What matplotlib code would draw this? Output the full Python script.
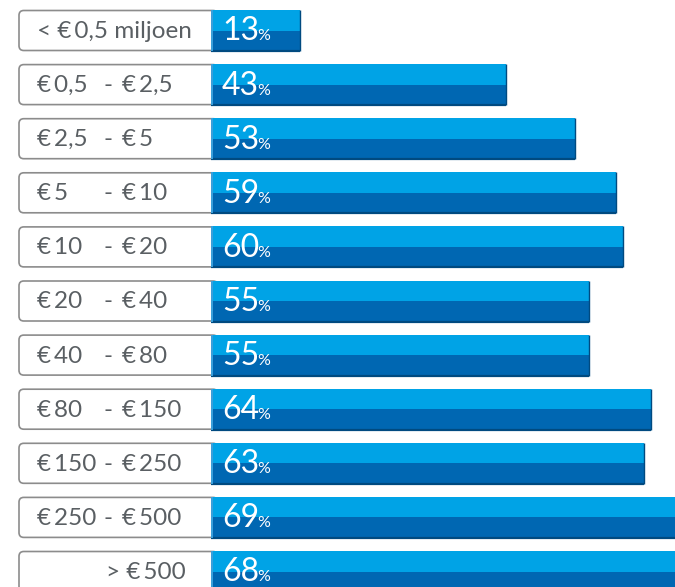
import matplotlib.pyplot as plt
from matplotlib.patches import FancyBboxPatch

# data
labels_left = ["< € 0,5 miljoen", "€ 0,5", "€ 2,5", "€ 5", "€ 10", "€ 20",
               "€ 40", "€ 80", "€ 150", "€ 250", "> € 500"]
labels_right = ["", "€ 2,5", "€ 5", "€ 10", "€ 20", "€ 40",
                "€ 80", "€ 150", "€ 250", "€ 500", ""]
values = [13, 43, 53, 59, 60, 55, 55, 64, 63, 69, 68]

# layout (pixels in a 675x587 figure)
W, H = 675, 587
PX_PER_PCT = 6.87
BAR_X0 = 211
ROW0 = 30.5
ROW_STEP = 54.1

LIGHT = "#00a3e6"
DARK = "#0067b2"
EDGE = "#004a80"
GRAY_TXT = "#5a5f63"
plt.rcParams['font.family'] = ['Lato', 'DejaVu Sans']


def px(x):
    # horizontal pixel position -> data x
    return -(BAR_X0 - x) / PX_PER_PCT


def thin(s):
    return s.replace("€ ", "€\u2009")


fig = plt.figure(figsize=(W / 100, H / 100), dpi=100)
ax = fig.add_axes([0, 0, 1, 1])
ax.set_xlim(px(0), px(W))
ax.set_ylim((H - ROW0) / ROW_STEP, -ROW0 / ROW_STEP)
ax.axis("off")

n = len(values)
ys = list(range(n))
bh = 41 / ROW_STEP

# bars: light full bar, dark lower half on top
ax.barh(ys, values, height=bh, color=LIGHT, zorder=3)
ax.barh([y + bh / 4 for y in ys], values, height=bh / 2, color=DARK, zorder=3)
ax.hlines([y + bh / 2 for y in ys], 0, values, color=EDGE, lw=1.6, zorder=4)
ax.vlines(values, [y - bh / 2 for y in ys], [y + bh / 2 for y in ys],
          color=EDGE, lw=1.0, zorder=4)
ax.barh(ys, [0.35] * n, height=bh, color="#3b9fda", zorder=4)

# label boxes
box_h = 40 / ROW_STEP
for y in ys:
    box = FancyBboxPatch((px(19), y - box_h / 2), -px(19) + 1, box_h,
                         boxstyle="round,pad=0,rounding_size=0.7",
                         mutation_aspect=1 / 7.9,
                         fc="white", ec="#8c8c8c", lw=1.2, zorder=2)
    ax.add_patch(box)

FS = 17.5
ty = 7.5 / ROW_STEP
for i, y in enumerate(ys):
    if i == n - 1:
        ax.text(px(186), y + ty, thin(labels_left[i]),
                ha="right", va="baseline", fontsize=FS, color=GRAY_TXT)
    else:
        ax.text(px(37), y + ty, thin(labels_left[i]), ha="left", va="baseline",
                fontsize=FS, color=GRAY_TXT)
        if labels_right[i]:
            ax.text(px(104), y + ty, "-", ha="left", va="baseline",
                    fontsize=FS, color=GRAY_TXT)
            ax.text(px(122), y + ty, thin(labels_right[i]), ha="left",
                    va="baseline", fontsize=FS, color=GRAY_TXT)

# percentage labels
num_y = 10 / ROW_STEP
num_texts = []
for y, v in zip(ys, values):
    t = ax.text(11 / PX_PER_PCT, y + num_y, str(v), ha="left", va="baseline",
                fontsize=23, color="white", zorder=5)
    num_texts.append(t)

fig.canvas.draw()
r = fig.canvas.get_renderer()
inv = ax.transData.inverted()
for t, y in zip(num_texts, ys):
    bb = t.get_window_extent(renderer=r)
    xr = inv.transform((bb.x1 - 1.5, 0))[0]
    ax.text(xr, y + num_y, "%", ha="left", va="baseline", fontsize=11.5,
            color="white", zorder=5)

fig.savefig("out.png", dpi=100)
